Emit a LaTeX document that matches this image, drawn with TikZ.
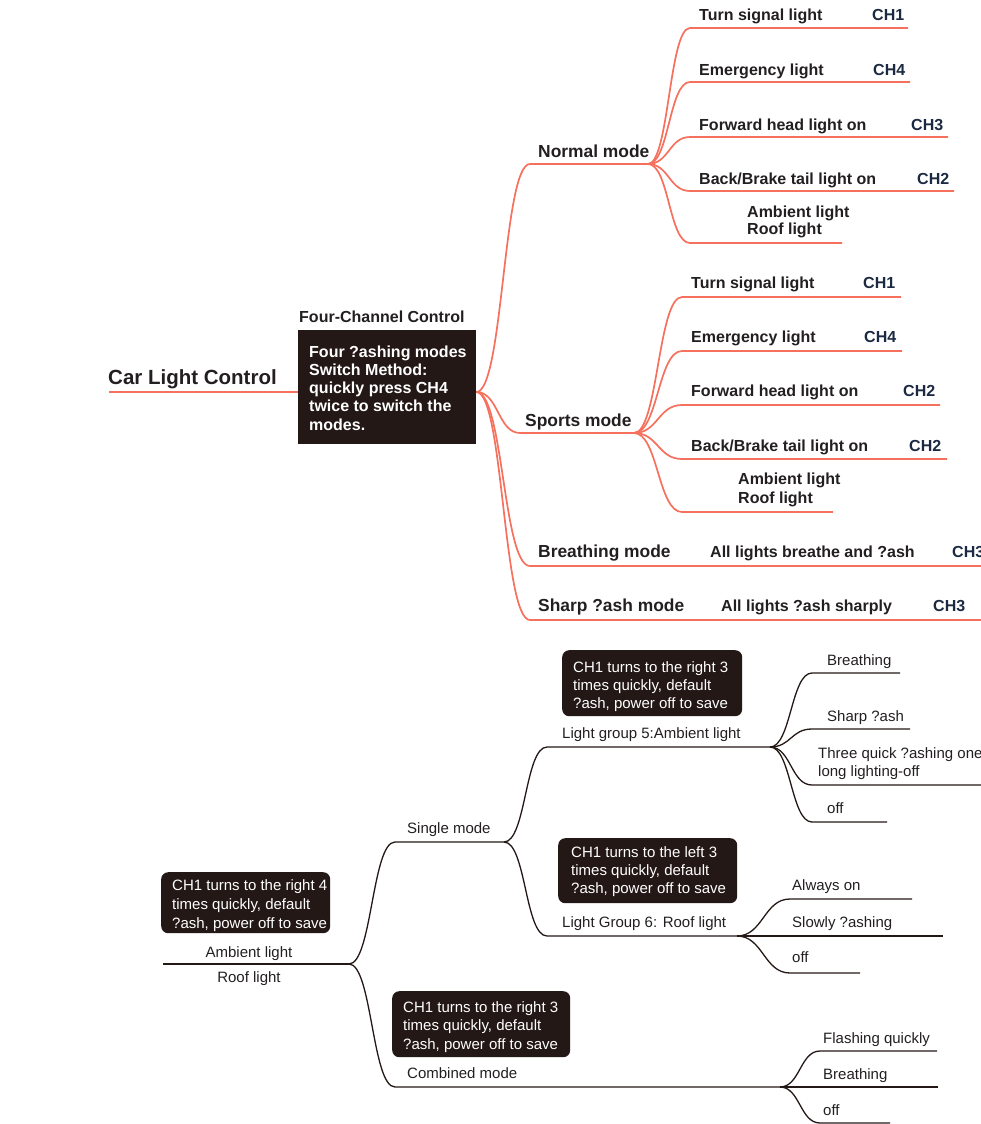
\documentclass[tikz,border=0pt]{standalone}
\usepackage{fontspec}
\setmainfont{Liberation Sans}
\definecolor{salmon}{RGB}{246,112,94}
\definecolor{dk}{RGB}{35,24,21}
\definecolor{txt}{RGB}{35,31,32}
\definecolor{navy}{RGB}{27,42,66}
\newcommand\mlines[1]{\begin{tabular}[t]{@{}l@{}}#1\end{tabular}}
\begin{document}
\begin{tikzpicture}[x=1pt,y=-1pt,
  sl/.style={draw=salmon,line width=1.7pt},
  dl/.style={draw=dk,line width=1.3pt},
  lbl/.style={inner sep=0pt,anchor=base west,text=txt},
  tchild/.style={lbl,font=\fontsize{16}{17.5}\selectfont\bfseries},
  tch/.style={tchild,text=navy},
  tmode/.style={lbl,font=\fontsize{17.4}{20}\selectfont\bfseries},
  blab/.style={lbl,font=\fontsize{15}{18}\selectfont},
  darkbox/.style={fill=dk,inner sep=0pt,anchor=north west},
  boxtxt/.style={inner sep=0pt,anchor=base west,text=white,font=\fontsize{15}{18}\selectfont}
]
\useasboundingbox (0,0) rectangle (980,1124);

% ================= TOP MAP =================
\node[lbl,font=\fontsize{20.5}{24}\selectfont\bfseries] (root) at (108,384) {Car Light Control};
\coordinate (r0) at (109,392);
\node[darkbox,minimum width=178pt,minimum height=114pt] (fcbox) at (298,330) {};
\node[tchild] (fclab) at (299,322) {Four-Channel Control};
\node[lbl,text=white,font=\fontsize{16}{18.3}\selectfont\bfseries] (fctext) at (309,357)
  {\mlines{Four ?ashing modes\\Switch Method:\\quickly press CH4\\twice to switch the\\modes.}};
\draw[sl] (r0) -- (r0 -| fcbox.west);
\coordinate (b0) at (fcbox.east |- r0);

% modes
\coordinate (nm) at (530,164); \coordinate (nme) at (648,164);
\coordinate (sm) at (520,433); \coordinate (sme) at (634,433);
\coordinate (bm) at (530,566); \coordinate (bme) at (985,566);
\coordinate (xm) at (530,620); \coordinate (xme) at (985,620);
\draw[sl] (b0) .. controls +(27,0) and +(-27,0) .. (nm) -- (nme);
\draw[sl] (b0) .. controls +(22,0) and +(-22,0) .. (sm) -- (sme);
\draw[sl] (b0) .. controls +(27,0) and +(-27,0) .. (bm) -- (bme);
\draw[sl] (b0) .. controls +(27,0) and +(-27,0) .. (xm) -- (xme);
\node[tmode] (nmt) at (538,157) {Normal mode};
\node[tmode] (smt) at (525,426) {Sports mode};
\node[tmode] (bmt) at (538,557) {Breathing mode};
\node[tmode] (xmt) at (538,611) {Sharp ?ash mode};
\node[tchild] (bmd) at (710,557) {All lights breathe and ?ash};
\node[tch] (bmc) at (952,557) {CH3};
\node[tchild] (xmd) at (721,611) {All lights ?ash sharply};
\node[tch] (xmc) at (933,611) {CH3};

% normal mode children
\coordinate (n1) at (690,28);  \coordinate (n1e) at (908,28);
\coordinate (n2) at (690,82);  \coordinate (n2e) at (910,82);
\coordinate (n3) at (690,137); \coordinate (n3e) at (948,137);
\coordinate (n4) at (690,191); \coordinate (n4e) at (954,191);
\coordinate (n5) at (690,243); \coordinate (n5e) at (842,243);
\foreach \c in {n1,n2,n3,n4,n5}
  \draw[sl] (nme) .. controls +(21,0) and +(-21,0) .. (\c) -- (\c e);
\node[tchild] (n1t) at (699,21) {Turn signal light};
\node[tch] (n1c) at (872,21) {CH1};
\node[tchild] (n2t) at (699,75) {Emergency light};
\node[tch] (n2c) at (873,75) {CH4};
\node[tchild] (n3t) at (699,130) {Forward head light on};
\node[tch] (n3c) at (911,130) {CH3};
\node[tchild] (n4t) at (699,184) {Back/Brake tail light on};
\node[tch] (n4c) at (917,184) {CH2};
\node[tchild] (n5t) at (747,217) {\mlines{Ambient light\\Roof light}};

% sports mode children
\coordinate (s1) at (682,297); \coordinate (s1e) at (901,297);
\coordinate (s2) at (682,351); \coordinate (s2e) at (902,351);
\coordinate (s3) at (682,405); \coordinate (s3e) at (940,405);
\coordinate (s4) at (682,459); \coordinate (s4e) at (947,459);
\coordinate (s5) at (682,512); \coordinate (s5e) at (833,512);
\foreach \c in {s1,s2,s3,s4,s5}
  \draw[sl] (sme) .. controls +(24,0) and +(-24,0) .. (\c) -- (\c e);
\node[tchild] (s1t) at (691,288) {Turn signal light};
\node[tch] (s1c) at (863,288) {CH1};
\node[tchild] (s2t) at (691,342) {Emergency light};
\node[tch] (s2c) at (864,342) {CH4};
\node[tchild] (s3t) at (691,396) {Forward head light on};
\node[tch] (s3c) at (903,396) {CH2};
\node[tchild] (s4t) at (691,451) {Back/Brake tail light on};
\node[tch] (s4c) at (909,451) {CH2};
\node[tchild,font=\fontsize{16}{19}\selectfont\bfseries] (s5t) at (738,484) {\mlines{Ambient light\\Roof light}};

% ================= BOTTOM MAP =================
\coordinate (q0) at (163,964); \coordinate (q1) at (349,964);
\draw[dl] (q0) -- (q1);
\node[blab,anchor=base] (qa) at (249,957) {Ambient light};
\node[blab,anchor=base] (qb) at (249,982) {Roof light};
\node[darkbox,rounded corners=7pt,minimum width=169pt,minimum height=61pt] (boxA) at (161,872) {};
\node[boxtxt,font=\fontsize{15}{19}\selectfont] (boxAt) at (172,890)
  {\mlines{CH1 turns to the right 4\\times quickly, default\\?ash, power off to save}};

% single / combined
\coordinate (sg) at (395,842); \coordinate (sge) at (504,842);
\coordinate (cb) at (395,1087); \coordinate (cbe) at (780,1087);
\draw[dl] (q1) .. controls +(23,0) and +(-23,0) .. (sg) -- (sge);
\draw[dl] (q1) .. controls +(23,0) and +(-23,0) .. (cb) -- (cbe);
\node[blab] (sgt) at (407,833) {Single mode};
\node[blab] (cbt) at (407,1078) {Combined mode};
\node[darkbox,rounded corners=7pt,minimum width=178pt,minimum height=66pt] (boxD) at (392,991) {};
\node[boxtxt,font=\fontsize{15}{18.5}\selectfont] (boxDt) at (403,1012)
  {\mlines{CH1 turns to the right 3\\times quickly, default\\?ash, power off to save}};

% light groups
\coordinate (g5) at (547,747); \coordinate (g5e) at (770,747);
\coordinate (g6) at (547,936); \coordinate (g6e) at (737,936);
\draw[dl] (sge) .. controls +(22,0) and +(-22,0) .. (g5) -- (g5e);
\draw[dl] (sge) .. controls +(22,0) and +(-22,0) .. (g6) -- (g6e);
\node[blab] (g5t) at (562,738) {Light group 5:Ambient light};
\node[blab] (g6t) at (562,927) {Light Group 6: Roof light};
\node[darkbox,rounded corners=7pt,minimum width=180pt,minimum height=66pt] (boxB) at (562,650) {};
\node[boxtxt] (boxBt) at (573,672)
  {\mlines{CH1 turns to the right 3\\times quickly, default\\?ash, power off to save}};
\node[darkbox,rounded corners=7pt,minimum width=179pt,minimum height=65pt] (boxC) at (558,838) {};
\node[boxtxt] (boxCt) at (571,857)
  {\mlines{CH1 turns to the left 3\\times quickly, default\\?ash, power off to save}};

% group 5 children
\coordinate (a1) at (812,673); \coordinate (a1e) at (900,673);
\coordinate (a2) at (812,729); \coordinate (a2e) at (910,729);
\coordinate (a3) at (812,785); \coordinate (a3e) at (985,785);
\coordinate (a4) at (812,822); \coordinate (a4e) at (887,822);
\foreach \c in {a1,a2,a3,a4}
  \draw[dl] (g5e) .. controls +(21,0) and +(-21,0) .. (\c) -- (\c e);
\node[blab] (a1t) at (827,665) {Breathing};
\node[blab] (a2t) at (827,721) {Sharp ?ash};
\node[blab,font=\fontsize{15}{18}\selectfont] (a3t) at (818,758) {\mlines{Three quick ?ashing one\\long lighting-off}};
\node[blab] (a4t) at (827,813) {off};

% group 6 children
\coordinate (c1) at (790,899); \coordinate (c1e) at (912,899);
\coordinate (c2) at (790,936); \coordinate (c2e) at (943,936);
\coordinate (c3) at (790,973); \coordinate (c3e) at (860,973);
\foreach \c in {c1,c2,c3}
  \draw[dl] (g6e) .. controls +(26,0) and +(-26,0) .. (\c) -- (\c e);
\node[blab] (c1t) at (792,890) {Always on};
\node[blab] (c2t) at (792,927) {Slowly ?ashing};
\node[blab] (c3t) at (792,962) {off};

% combined children
\coordinate (d1) at (820,1051); \coordinate (d1e) at (937,1051);
\coordinate (d2) at (820,1087); \coordinate (d2e) at (938,1087);
\coordinate (d3) at (820,1123); \coordinate (d3e) at (890,1123);
\foreach \c in {d1,d2,d3}
  \draw[dl] (cbe) .. controls +(20,0) and +(-20,0) .. (\c) -- (\c e);
\node[blab] (d1t) at (823,1043) {Flashing quickly};
\node[blab] (d2t) at (823,1079) {Breathing};
\node[blab] (d3t) at (823,1115) {off};
\end{tikzpicture}
\end{document}
